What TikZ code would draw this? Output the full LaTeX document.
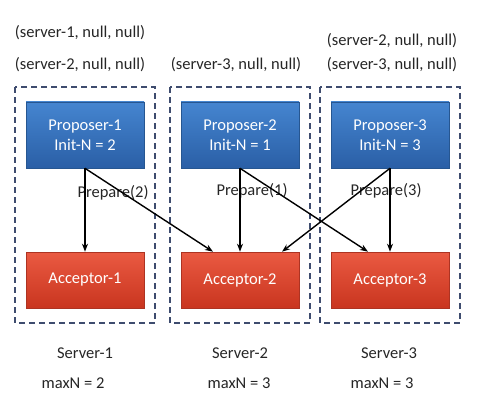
\documentclass[tikz,border=0pt]{standalone}
\usepackage{fontspec}
\setmainfont{Carlito}
\usetikzlibrary{arrows.meta,shadows}
\definecolor{propblue}{HTML}{2F6CB5}
\definecolor{propblueT}{HTML}{4585D0}
\definecolor{propblueB}{HTML}{2A5FA6}
\definecolor{accred}{HTML}{D8402B}
\definecolor{accredT}{HTML}{EA5A42}
\definecolor{accredB}{HTML}{C9351F}
\definecolor{dashcol}{HTML}{3E4C6E}
\tikzset{
  server/.style={draw=dashcol, line width=1.2pt, dash pattern=on 6pt off 4pt},
  prop/.style={draw=propblue!80!black, line width=0.6pt, top color=propblueT, bottom color=propblueB, text=white, font=\fontsize{16.5}{20}\selectfont, align=center, minimum width=118pt, minimum height=66pt, inner sep=0pt, drop shadow={shadow xshift=1pt, shadow yshift=-1pt, opacity=0.3}},
  acc/.style={draw=accred!80!black, line width=0.6pt, top color=accredT, bottom color=accredB, text=white, font=\fontsize{16.5}{20}\selectfont, minimum width=118pt, minimum height=56pt, inner sep=0pt, drop shadow={shadow xshift=1pt, shadow yshift=-1pt, opacity=0.3}},
  msg/.style={-{Stealth[length=8pt,width=6pt]}, line width=1.4pt, black},
  lbl/.style={font=\fontsize{16.5}{20}\selectfont, text=black!85},
}
\begin{document}
\begin{tikzpicture}[x=1pt,y=-1pt]
\useasboundingbox[fill=white] (0,0) rectangle (484,403);
% server boxes
\draw[server] (15,87) rectangle (155,323);
\draw[server] (170,87) rectangle (310,323);
\draw[server] (320,87) rectangle (460,323);
% proposers
\node[prop] (p1) at (85,135) {Proposer-1\\Init-N = 2};
\node[prop] (p2) at (240,135) {Proposer-2\\Init-N = 1};
\node[prop] (p3) at (390,135) {Proposer-3\\Init-N = 3};
% acceptors
\node[acc] (a1) at (85,280) {Acceptor-1};
\node[acc] (a2) at (240,280) {Acceptor-2};
\node[acc] (a3) at (390,280) {Acceptor-3};
% labels
\node[lbl] (l1) at (113,193) {Prepare(2)};
\node[lbl] (l2) at (252,191) {Prepare(1)};
\node[lbl] (l3) at (386,191) {Prepare(3)};
% arrows
\draw[msg] (p1.south) -- ([xshift=0pt]a1.north);
\draw[msg] (p1.south) -- ([xshift=-27pt]a2.north);
\draw[msg] (p2.south) -- (a2.north);
\draw[msg] (p2.south) -- ([xshift=-22pt]a3.north);
\draw[msg] (p3.south) -- (a3.north);
\draw[msg] (p3.south) -- ([xshift=42pt]a2.north);
% top tuples
\node[lbl] (t1) at (80,33) {(server-1, null, null)};
\node[lbl] (t2) at (80,65) {(server-2, null, null)};
\node[lbl] (t3) at (236,65) {(server-3, null, null)};
\node[lbl] (t4) at (392,41) {(server-2, null, null)};
\node[lbl] (t5) at (392,65) {(server-3, null, null)};
% bottom
\node[lbl] (s1) at (85,353) {Server-1};
\node[lbl] (s2) at (240,353) {Server-2};
\node[lbl] (s3) at (389,353) {Server-3};
\node[lbl] (m1) at (73,383) {maxN = 2};
\node[lbl] (m2) at (239,383) {maxN = 3};
\node[lbl] (m3) at (382,383) {maxN = 3};
\end{tikzpicture}
\end{document}
